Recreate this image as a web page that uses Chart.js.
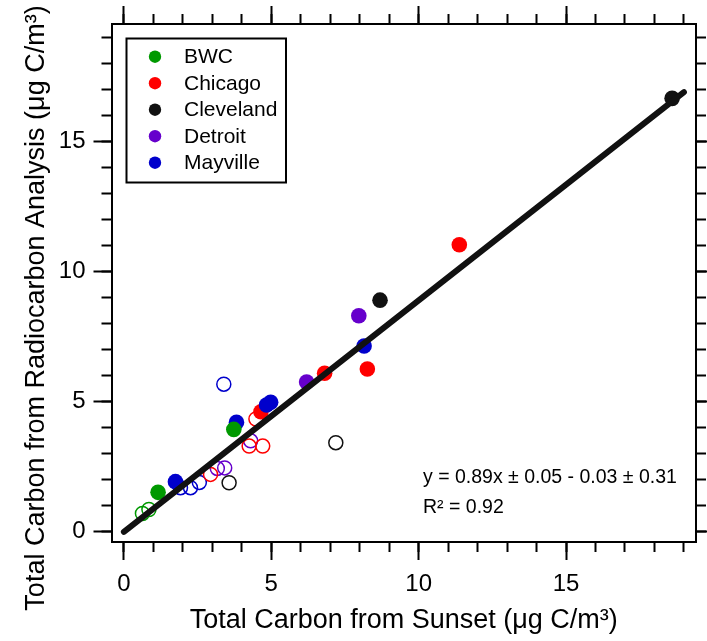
<!DOCTYPE html>
<html>
<head>
<meta charset="utf-8">
<title>Total Carbon: Radiocarbon vs Sunset</title>
<script src="https://cdn.jsdelivr.net/npm/chart.js@4.4.1/dist/chart.umd.min.js"></script>
<style>
  html, body { margin: 0; padding: 0; background: #ffffff; }
  #wrap { width: 707px; height: 641px; position: relative; }
</style>
</head>
<body>
<div id="wrap"><canvas id="c" width="707" height="641"></canvas></div>
<script>
// Site names and colours
const sites = ['BWC', 'Chicago', 'Cleveland', 'Detroit', 'Mayville'];
const siteColors = ['#009900', '#ff0000', '#111111', '#6600cc', '#0000cc'];

// Filled markers: [Sunset TC, radiocarbon TC] in µg C/m³
const bwcFilled = [[1.16, 1.49], [3.73, 3.91]];
const chicagoFilled = [[4.65, 4.59], [6.81, 6.07], [8.26, 6.23], [11.38, 11.01]];
const clevelandFilled = [[8.69, 8.88], [18.60, 16.64]];
const detroitFilled = [[6.20, 5.73], [7.97, 8.28]];
const mayvilleFilled = [[1.75, 1.90], [3.82, 4.18], [4.84, 4.85], [4.98, 4.95], [8.15, 7.12]];

// Open markers
const bwcOpen = [[0.63, 0.68], [0.85, 0.83]];
const chicagoOpen = [[2.94, 2.18], [4.25, 3.27], [4.71, 3.27], [4.48, 4.31]];
const clevelandOpen = [[3.57, 1.86], [7.19, 3.40]];
const detroitOpen = [[3.17, 2.41], [3.42, 2.43], [4.30, 3.47]];
const mayvilleOpen = [[1.92, 1.67], [2.26, 1.67], [2.56, 1.87], [3.39, 5.65]];

// Regression line end points
const fitLine = [[0, -0.03], [19, 16.88]];
const fitText = ['y = 0.89x \u00b1 0.05 - 0.03 \u00b1 0.31', 'R\u00b2 = 0.92'];

// Axis ranges and tick spacing
const xRange = [-0.42, 19.41];
const yRange = [-0.42, 19.5];
const majorStep = 5;
const minorStep = 1;

const xTitle = 'Total Carbon from Sunset (\u03bcg C/m\u00b3)';
const yTitle = 'Total Carbon from Radiocarbon Analysis (\u03bcg C/m\u00b3)';

const FONT = "'Liberation Sans', Arial, Helvetica, sans-serif";
const toXY = arr => arr.map(p => ({ x: p[0], y: p[1] }));

const filledSets = [bwcFilled, chicagoFilled, clevelandFilled, detroitFilled, mayvilleFilled];
const openSets = [bwcOpen, chicagoOpen, clevelandOpen, detroitOpen, mayvilleOpen];
// draw priority: lower value ends up on top
const filledOrder = [1, 5, 4, 3, 2];

const datasets = [];
datasets.push({
  type: 'line',
  label: 'fit',
  data: toXY(fitLine),
  borderColor: '#111111',
  borderWidth: 6,
  borderCapStyle: 'round',
  pointRadius: 0,
  fill: false,
  order: 0
});
sites.forEach((name, i) => {
  datasets.push({
    label: name,
    data: toXY(filledSets[i]),
    backgroundColor: siteColors[i],
    borderColor: siteColors[i],
    borderWidth: 0,
    pointRadius: 7.8,
    filled: true,
    order: filledOrder[i]
  });
});
sites.forEach((name, i) => {
  datasets.push({
    label: name + ' (open)',
    data: toXY(openSets[i]),
    backgroundColor: 'rgba(0,0,0,0)',
    borderColor: siteColors[i],
    borderWidth: 1.5,
    pointRadius: 7,
    filled: false,
    order: 6 + i
  });
});

// Boxed legend in the upper-left corner of the plot
const boxLegend = {
  id: 'boxLegend',
  afterDatasetsDraw(chart) {
    const ctx = chart.ctx;
    const x0 = 126.5, y0 = 38.5, w = 159.5, h = 144;
    ctx.save();
    ctx.fillStyle = '#ffffff';
    ctx.fillRect(x0, y0, w, h);
    ctx.strokeStyle = '#000000';
    ctx.lineWidth = 2;
    ctx.strokeRect(x0, y0, w, h);
    const items = chart.data.datasets.filter(d => d.filled === true);
    ctx.font = '21px ' + FONT;
    ctx.textBaseline = 'middle';
    ctx.textAlign = 'left';
    items.forEach((d, k) => {
      const cy = 56.7 + k * 26.5;
      ctx.beginPath();
      ctx.arc(155, cy, 6.2, 0, Math.PI * 2);
      ctx.fillStyle = d.backgroundColor;
      ctx.fill();
      ctx.fillStyle = '#000000';
      ctx.fillText(d.label, 184, cy + 1);
    });
    ctx.restore();
  }
};

// Fit equation text and the rotated y-axis title
const textLayer = {
  id: 'textLayer',
  afterDraw(chart) {
    const ctx = chart.ctx;
    ctx.save();
    ctx.font = '19.5px ' + FONT;
    ctx.fillStyle = '#000000';
    ctx.textBaseline = 'middle';
    ctx.textAlign = 'left';
    ctx.fillText(fitText[0], 423, 478);
    ctx.fillText(fitText[1], 423, 507.5);
    ctx.restore();

    ctx.save();
    ctx.translate(37, 308);
    ctx.rotate(-Math.PI / 2);
    ctx.font = '27px ' + FONT;
    ctx.fillStyle = '#000000';
    ctx.textAlign = 'center';
    ctx.textBaseline = 'middle';
    ctx.fillText(yTitle, 0, 0);
    ctx.restore();
  }
};

function axisCommon(min, max) {
  return {
    type: 'linear',
    min: min,
    max: max,
    grid: {
      display: true,
      drawOnChartArea: false,
      drawTicks: true,
      tickColor: '#000000',
      tickWidth: 2
    }
  };
}

function majorAxis(pos, range, opts) {
  const a = axisCommon(range[0], range[1]);
  a.position = pos;
  a.weight = 1;
  a.grid.tickLength = 18;
  a.border = { display: true, color: '#000000', width: 2 };
  a.ticks = Object.assign({
    stepSize: majorStep,
    includeBounds: false,
    color: '#000000',
    font: { family: FONT, size: 24 }
  }, opts.ticks || {});
  if (opts.title) a.title = opts.title;
  if (opts.afterFit) a.afterFit = opts.afterFit;
  return a;
}

function minorAxis(pos, range, horizontal) {
  const a = axisCommon(range[0], range[1]);
  a.position = pos;
  a.weight = 0;
  a.grid.tickLength = 10;
  a.border = { display: false };
  a.ticks = { stepSize: minorStep, includeBounds: false, display: false };
  a.afterFit = horizontal ? (s => { s.height = 0; }) : (s => { s.width = 0; });
  return a;
}

const chart = new Chart(document.getElementById('c'), {
  type: 'scatter',
  data: { datasets: datasets },
  options: {
    responsive: false,
    animation: false,
    devicePixelRatio: 1,
    layout: { padding: { top: 24, right: 11, left: 0, bottom: 0 } },
    plugins: {
      legend: { display: false },
      tooltip: { enabled: false }
    },
    scales: {
      x: majorAxis('bottom', xRange, {
        ticks: { padding: 10 },
        title: {
          display: true,
          text: xTitle,
          color: '#000000',
          font: { family: FONT, size: 27 },
          padding: { top: 0, bottom: 4 }
        },
        afterFit: s => { s.height = 99; }
      }),
      xMinor: minorAxis('bottom', xRange, true),
      xTop: majorAxis('top', xRange, {
        ticks: { display: false },
        afterFit: s => { s.height = 0; }
      }),
      xTopMinor: minorAxis('top', xRange, true),
      y: majorAxis('left', yRange, {
        ticks: { padding: 8 },
        afterFit: s => { s.width = 111.5; }
      }),
      yMinor: minorAxis('left', yRange, false),
      yRight: majorAxis('right', yRange, {
        ticks: { display: false },
        afterFit: s => { s.width = 0; }
      }),
      yRightMinor: minorAxis('right', yRange, false)
    }
  },
  plugins: [boxLegend, textLayer]
});
</script>
</body>
</html>
